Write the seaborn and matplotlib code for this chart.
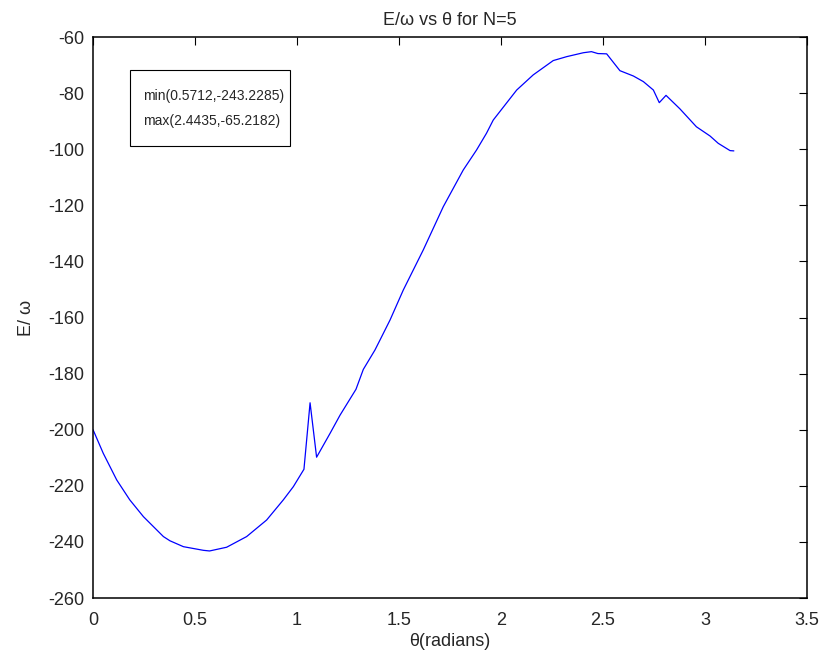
import numpy as np
import pandas as pd
import matplotlib
matplotlib.use("Agg")
import matplotlib.pyplot as plt
from matplotlib.patches import Rectangle
import seaborn as sns

# values
theta = [0.0, 0.05, 0.116, 0.18, 0.247, 0.345, 0.377, 0.443, 0.541, 0.5712,
         0.655, 0.753, 0.851, 0.933, 0.982, 1.034, 1.064, 1.096, 1.162, 1.211,
         1.289, 1.325, 1.382, 1.407, 1.456, 1.521, 1.619, 1.717, 1.815, 1.88,
         1.929, 1.962, 2.077, 2.158, 2.256, 2.322, 2.404, 2.4435, 2.475, 2.518,
         2.583, 2.649, 2.698, 2.747, 2.776, 2.809, 2.877, 2.958, 3.025, 3.065,
         3.123, 3.1416]
energy = [-200.0, -208.4, -217.9, -225.0, -231.0, -238.1, -239.6, -241.7, -243.0, -243.2285,
          -241.9, -238.1, -232.2, -225.0, -220.3, -214.1, -190.4, -209.8, -201.3, -194.8,
          -185.6, -178.5, -171.6, -168.0, -160.9, -150.2, -135.9, -120.5, -107.4, -100.3,
          -94.3, -89.6, -78.9, -73.5, -68.4, -67.0, -65.6, -65.2182, -65.9, -66.0,
          -72.0, -73.9, -75.9, -78.9, -83.4, -80.8, -85.6, -92.0, -95.3, -97.9,
          -100.5, -100.6]

xticks = [0, 0.5, 1, 1.5, 2, 2.5, 3, 3.5]
yticks = [-260, -240, -220, -200, -180, -160, -140, -120, -100, -80, -60]
note_lines = ["min(0.5712,-243.2285)", "max(2.4435,-65.2182)"]

sns.set_style("white")
plt.rcParams['font.family'] = ['Liberation Sans', 'DejaVu Sans']
plt.rcParams['axes.unicode_minus'] = False
plt.rcParams['xtick.direction'] = 'in'
plt.rcParams['ytick.direction'] = 'in'

df = pd.DataFrame({"theta": theta, "energy": energy})

fig = plt.figure(figsize=(8.19, 6.61), dpi=100)
ax = fig.add_axes([0.1136, 0.0953, 0.8717, 0.8487])
sns.lineplot(data=df, x="theta", y="energy", color=(0, 0, 1), linewidth=0.9, ax=ax)

ax.set_xlim(0, 3.5)
ax.set_ylim(-260, -60)
ax.set_xticks(xticks)
ax.set_xticklabels([f"{t:g}" for t in xticks])
ax.set_yticks(yticks)
ax.tick_params(axis='both', labelsize=13, length=6, width=0.8, color='black',
               top=True, right=True)
ax.tick_params(axis='x', pad=10)
ax.tick_params(axis='y', pad=6)
for s in ax.spines.values():
    s.set_color('black')
    s.set_linewidth(1.1)

ax.set_xlabel("θ(radians)", fontsize=13, labelpad=3)
ax.set_ylabel("E/ ω", fontsize=13, labelpad=10)
ax.set_title("E/ω vs θ for N=5", fontsize=13, pad=9)

# annotation box (MATLAB style text box)
ax.add_patch(Rectangle((0.181, -98.9), 0.785, 27.1, facecolor='white',
                       edgecolor='black', linewidth=0.8, zorder=3))
ax.text(0.245, -81.0, note_lines[0], fontsize=10, va='center', ha='left', zorder=4)
ax.text(0.245, -89.9, note_lines[1], fontsize=10, va='center', ha='left', zorder=4)

fig.savefig("out.png", dpi=100)
